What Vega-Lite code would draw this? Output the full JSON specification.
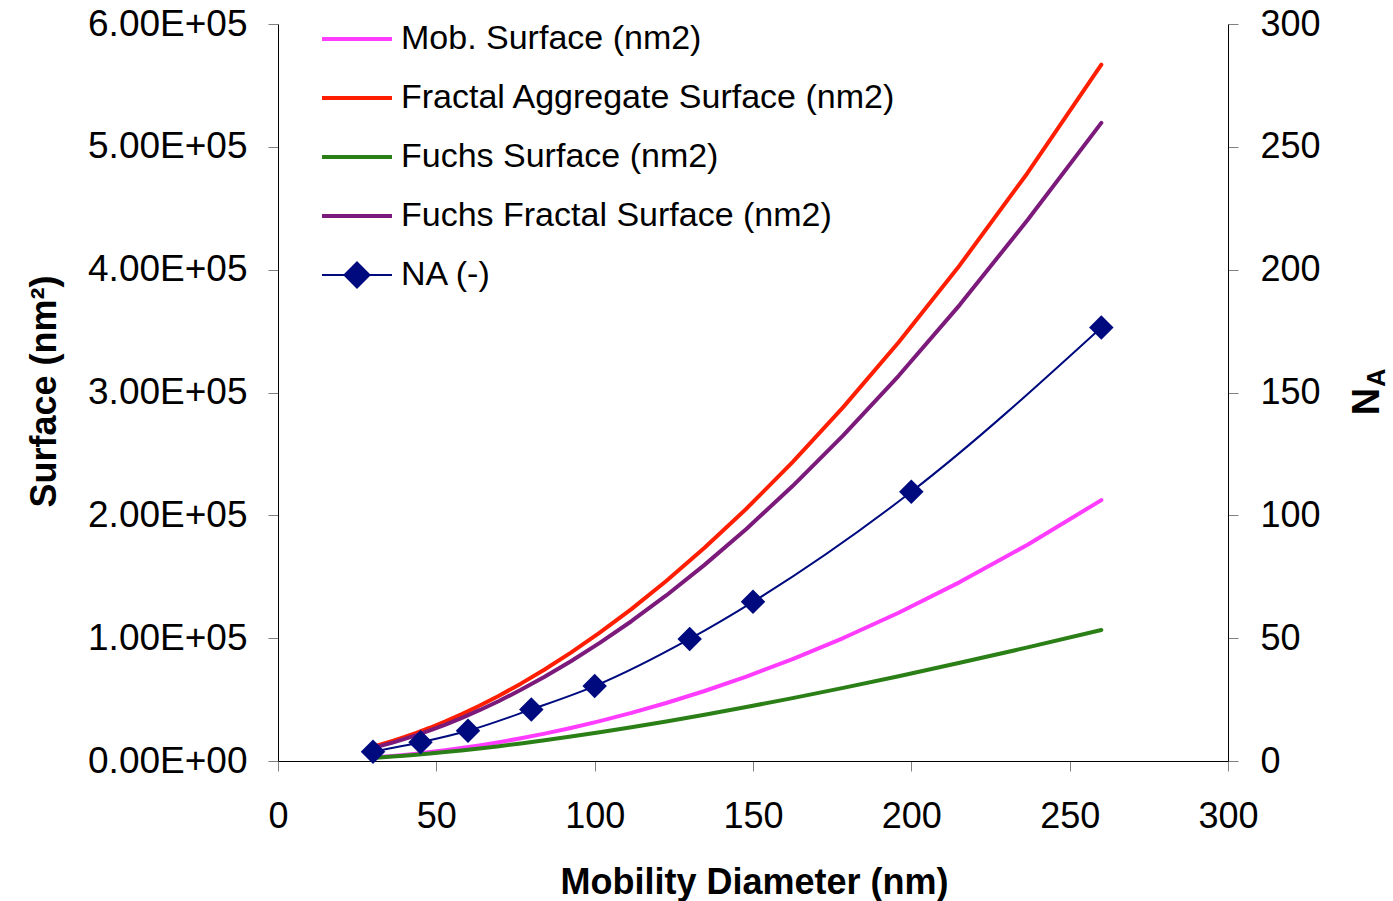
{
  "$schema": "https://vega.github.io/schema/vega-lite/v6.json",
  "width": 950,
  "height": 737,
  "autosize": {"type": "none"},
  "padding": {"left": 278, "top": 24, "right": 165, "bottom": 140},
  "background": "white",
  "config": {
    "view": {"stroke": null},
    "font": "Liberation Sans",
    "axis": {
      "grid": false,
      "domainColor": "#000000",
      "domainWidth": 1,
      "tickColor": "#808080",
      "tickWidth": 1,
      "tickSize": 10,
      "labelColor": "#000000",
      "labelFont": "Liberation Sans",
      "labelFontSize": 36,
      "titleColor": "#000000",
      "titleFont": "Liberation Sans",
      "titleFontSize": 36,
      "titleFontWeight": "bold"
    }
  },
  "datasets": {
    "surface": [
      {"series": "Mob. Surface (nm2)", "d": 30, "s": 2827},
      {"series": "Mob. Surface (nm2)", "d": 33, "s": 3421},
      {"series": "Mob. Surface (nm2)", "d": 36.2, "s": 4117},
      {"series": "Mob. Surface (nm2)", "d": 39.8, "s": 4976},
      {"series": "Mob. Surface (nm2)", "d": 43.7, "s": 5999},
      {"series": "Mob. Surface (nm2)", "d": 48, "s": 7238},
      {"series": "Mob. Surface (nm2)", "d": 52.7, "s": 8725},
      {"series": "Mob. Surface (nm2)", "d": 57.9, "s": 10532},
      {"series": "Mob. Surface (nm2)", "d": 63.6, "s": 12708},
      {"series": "Mob. Surface (nm2)", "d": 69.8, "s": 15306},
      {"series": "Mob. Surface (nm2)", "d": 76.7, "s": 18482},
      {"series": "Mob. Surface (nm2)", "d": 84.2, "s": 22273},
      {"series": "Mob. Surface (nm2)", "d": 92.5, "s": 26880},
      {"series": "Mob. Surface (nm2)", "d": 101.6, "s": 32429},
      {"series": "Mob. Surface (nm2)", "d": 111.6, "s": 39128},
      {"series": "Mob. Surface (nm2)", "d": 122.6, "s": 47221},
      {"series": "Mob. Surface (nm2)", "d": 134.7, "s": 57001},
      {"series": "Mob. Surface (nm2)", "d": 147.9, "s": 68720},
      {"series": "Mob. Surface (nm2)", "d": 162.5, "s": 82957},
      {"series": "Mob. Surface (nm2)", "d": 178.5, "s": 100098},
      {"series": "Mob. Surface (nm2)", "d": 196, "s": 120687},
      {"series": "Mob. Surface (nm2)", "d": 215.3, "s": 145626},
      {"series": "Mob. Surface (nm2)", "d": 236.7, "s": 176014},
      {"series": "Mob. Surface (nm2)", "d": 260, "s": 212372},

      {"series": "Fractal Aggregate Surface (nm2)", "d": 30, "s": 11625},
      {"series": "Fractal Aggregate Surface (nm2)", "d": 33, "s": 13800},
      {"series": "Fractal Aggregate Surface (nm2)", "d": 36.2, "s": 16302},
      {"series": "Fractal Aggregate Surface (nm2)", "d": 39.8, "s": 19336},
      {"series": "Fractal Aggregate Surface (nm2)", "d": 43.7, "s": 22877},
      {"series": "Fractal Aggregate Surface (nm2)", "d": 48, "s": 27089},
      {"series": "Fractal Aggregate Surface (nm2)", "d": 52.7, "s": 32048},
      {"series": "Fractal Aggregate Surface (nm2)", "d": 57.9, "s": 37964},
      {"series": "Fractal Aggregate Surface (nm2)", "d": 63.6, "s": 44952},
      {"series": "Fractal Aggregate Surface (nm2)", "d": 69.8, "s": 53146},
      {"series": "Fractal Aggregate Surface (nm2)", "d": 76.7, "s": 62975},
      {"series": "Fractal Aggregate Surface (nm2)", "d": 84.2, "s": 74493},
      {"series": "Fractal Aggregate Surface (nm2)", "d": 92.5, "s": 88230},
      {"series": "Fractal Aggregate Surface (nm2)", "d": 101.6, "s": 104474},
      {"series": "Fractal Aggregate Surface (nm2)", "d": 111.6, "s": 123685},
      {"series": "Fractal Aggregate Surface (nm2)", "d": 122.6, "s": 146487},
      {"series": "Fractal Aggregate Surface (nm2)", "d": 134.7, "s": 173566},
      {"series": "Fractal Aggregate Surface (nm2)", "d": 147.9, "s": 205334},
      {"series": "Fractal Aggregate Surface (nm2)", "d": 162.5, "s": 243285},
      {"series": "Fractal Aggregate Surface (nm2)", "d": 178.5, "s": 288081},
      {"series": "Fractal Aggregate Surface (nm2)", "d": 196, "s": 340876},
      {"series": "Fractal Aggregate Surface (nm2)", "d": 215.3, "s": 403650},
      {"series": "Fractal Aggregate Surface (nm2)", "d": 236.7, "s": 478740},
      {"series": "Fractal Aggregate Surface (nm2)", "d": 260, "s": 566921},

      {"series": "Fuchs Surface (nm2)", "d": 30, "s": 2537},
      {"series": "Fuchs Surface (nm2)", "d": 33, "s": 3038},
      {"series": "Fuchs Surface (nm2)", "d": 36.2, "s": 3617},
      {"series": "Fuchs Surface (nm2)", "d": 39.8, "s": 4320},
      {"series": "Fuchs Surface (nm2)", "d": 43.7, "s": 5142},
      {"series": "Fuchs Surface (nm2)", "d": 48, "s": 6117},
      {"series": "Fuchs Surface (nm2)", "d": 52.7, "s": 7264},
      {"series": "Fuchs Surface (nm2)", "d": 57.9, "s": 8626},
      {"series": "Fuchs Surface (nm2)", "d": 63.6, "s": 10226},
      {"series": "Fuchs Surface (nm2)", "d": 69.8, "s": 12086},
      {"series": "Fuchs Surface (nm2)", "d": 76.7, "s": 14297},
      {"series": "Fuchs Surface (nm2)", "d": 84.2, "s": 16856},
      {"series": "Fuchs Surface (nm2)", "d": 92.5, "s": 19866},
      {"series": "Fuchs Surface (nm2)", "d": 101.6, "s": 23367},
      {"series": "Fuchs Surface (nm2)", "d": 111.6, "s": 27440},
      {"series": "Fuchs Surface (nm2)", "d": 122.6, "s": 32168},
      {"series": "Fuchs Surface (nm2)", "d": 134.7, "s": 37646},
      {"series": "Fuchs Surface (nm2)", "d": 147.9, "s": 43925},
      {"series": "Fuchs Surface (nm2)", "d": 162.5, "s": 51201},
      {"series": "Fuchs Surface (nm2)", "d": 178.5, "s": 59536},
      {"series": "Fuchs Surface (nm2)", "d": 196, "s": 69039},
      {"series": "Fuchs Surface (nm2)", "d": 215.3, "s": 79937},
      {"series": "Fuchs Surface (nm2)", "d": 236.7, "s": 92472},
      {"series": "Fuchs Surface (nm2)", "d": 260, "s": 106593},

      {"series": "Fuchs Fractal Surface (nm2)", "d": 30, "s": 10695},
      {"series": "Fuchs Fractal Surface (nm2)", "d": 33, "s": 12696},
      {"series": "Fuchs Fractal Surface (nm2)", "d": 36.2, "s": 14998},
      {"series": "Fuchs Fractal Surface (nm2)", "d": 39.8, "s": 17789},
      {"series": "Fuchs Fractal Surface (nm2)", "d": 43.7, "s": 21047},
      {"series": "Fuchs Fractal Surface (nm2)", "d": 48, "s": 24922},
      {"series": "Fuchs Fractal Surface (nm2)", "d": 52.7, "s": 29484},
      {"series": "Fuchs Fractal Surface (nm2)", "d": 57.9, "s": 34927},
      {"series": "Fuchs Fractal Surface (nm2)", "d": 63.6, "s": 41356},
      {"series": "Fuchs Fractal Surface (nm2)", "d": 69.8, "s": 48894},
      {"series": "Fuchs Fractal Surface (nm2)", "d": 76.7, "s": 57937},
      {"series": "Fuchs Fractal Surface (nm2)", "d": 84.2, "s": 68534},
      {"series": "Fuchs Fractal Surface (nm2)", "d": 92.5, "s": 81172},
      {"series": "Fuchs Fractal Surface (nm2)", "d": 101.6, "s": 96116},
      {"series": "Fuchs Fractal Surface (nm2)", "d": 111.6, "s": 113790},
      {"series": "Fuchs Fractal Surface (nm2)", "d": 122.6, "s": 134768},
      {"series": "Fuchs Fractal Surface (nm2)", "d": 134.7, "s": 159681},
      {"series": "Fuchs Fractal Surface (nm2)", "d": 147.9, "s": 188907},
      {"series": "Fuchs Fractal Surface (nm2)", "d": 162.5, "s": 223822},
      {"series": "Fuchs Fractal Surface (nm2)", "d": 178.5, "s": 265035},
      {"series": "Fuchs Fractal Surface (nm2)", "d": 196, "s": 313606},
      {"series": "Fuchs Fractal Surface (nm2)", "d": 215.3, "s": 371358},
      {"series": "Fuchs Fractal Surface (nm2)", "d": 236.7, "s": 440441},
      {"series": "Fuchs Fractal Surface (nm2)", "d": 260, "s": 519500}
    ],
    "na": [
      {"d": 30, "na": 3.8},
      {"d": 45, "na": 7.6},
      {"d": 60, "na": 12.3},
      {"d": 80, "na": 21.0},
      {"d": 100, "na": 30.5},
      {"d": 130, "na": 49.7},
      {"d": 150, "na": 64.8},
      {"d": 200, "na": 109.6},
      {"d": 260, "na": 176.5}
    ]
  },
  "encoding": {
    "x": {
      "field": "d",
      "type": "quantitative",
      "scale": {"domain": [0, 300], "nice": false, "zero": false},
      "axis": {
        "values": [0, 50, 100, 150, 200, 250, 300],
        "title": "Mobility Diameter (nm)",
        "labelPadding": 56,
        "labelBaseline": "alphabetic",
        "labelFlush": false,
        "labelOverlap": false,
        "titleX": 476,
        "titleY": 132,
        "titleAlign": "center",
        "titleBaseline": "alphabetic",
        "titleAnchor": null
      }
    }
  },
  "layer": [
    {
      "data": {"name": "surface"},
      "mark": {"type": "line", "strokeWidth": 4, "strokeJoin": "round", "strokeCap": "round"},
      "encoding": {
        "y": {
          "field": "s",
          "type": "quantitative",
          "scale": {"domain": [0, 600000], "nice": false},
          "axis": {
            "orient": "left",
            "values": [0, 100000, 200000, 300000, 400000, 500000, 600000],
            "labelExpr": "format(datum.value / 100000, '.2f') + (datum.value == 0 ? 'E+00' : 'E+05')",
            "labelFontSize": 37,
            "labelPadding": 21,
            "labelFlush": false,
            "labelOverlap": false,
            "title": "Surface (nm²)",
            "titleAngle": 270,
            "titleX": -223,
            "titleY": 367,
            "titleAlign": "center",
            "titleBaseline": "alphabetic",
            "titleAnchor": null
          }
        },
        "color": {
          "field": "series",
          "type": "nominal",
          "sort": null,
          "scale": {
            "domain": ["Mob. Surface (nm2)", "Fractal Aggregate Surface (nm2)", "Fuchs Surface (nm2)", "Fuchs Fractal Surface (nm2)", "NA (-)"],
            "range": ["#FF3CFF", "#FF1E00", "#2B7F17", "#7B1A7B", "#000A7F"]
          },
          "legend": {
            "orient": "none",
            "legendX": 62,
            "legendY": -2,
            "title": null,
            "padding": 0,
            "symbolType": "M-1.4,0L1.4,0",
            "symbolSize": 2500,
            "symbolStrokeWidth": 4,
            "labelOffset": 27,
            "rowPadding": 25,
            "labelFont": "Liberation Sans",
            "labelFontSize": 34,
            "labelColor": "#000000",
            "labelLimit": 800,
            "encode": {
              "symbols": {
                "update": {
                  "shape": {"signal": "datum.value === 'NA (-)' ? 'M-1.4,0L1.4,0M0,-0.5L0.5,0L0,0.5L-0.5,0Z' : 'M-1.4,0L1.4,0'"},
                  "strokeWidth": {"signal": "datum.value === 'NA (-)' ? 2 : 4"},
                  "fill": {"signal": "datum.value === 'NA (-)' ? '#000A7F' : 'transparent'"},
                  "opacity": {"value": 1}
                }
              }
            }
          }
        }
      }
    },
    {
      "layer": [
        {
          "data": {"name": "na"},
          "mark": {"type": "line", "strokeWidth": 2, "interpolate": "monotone"},
          "encoding": {
            "y": {
              "field": "na",
              "type": "quantitative",
              "scale": {"domain": [0, 300], "nice": false},
              "axis": {
                "orient": "right",
                "values": [0, 50, 100, 150, 200, 250, 300],
                "labelPadding": 22,
                "labelFlush": false,
                "labelOverlap": false,
                "title": "N",
                "titleFontSize": 38,
                "titleAngle": 270,
                "titleX": 150,
                "titleY": 377,
                "titleAlign": "center",
                "titleBaseline": "alphabetic",
                "titleAnchor": null
              }
            },
            "color": {"datum": "NA (-)"}
          }
        },
        {
          "data": {"name": "na"},
          "mark": {"type": "point", "shape": "diamond", "filled": true, "size": 600, "opacity": 1},
          "encoding": {
            "y": {"field": "na", "type": "quantitative"},
            "color": {"datum": "NA (-)"}
          }
        },
        {
          "data": {"values": [{"sub": "A", "d": 300, "na": 156}]},
          "mark": {"type": "text", "angle": 270, "align": "center", "baseline": "alphabetic", "fontSize": 25, "fontWeight": "bold", "font": "Liberation Sans", "color": "#000000", "dy": 157},
          "encoding": {
            "y": {"field": "na", "type": "quantitative"},
            "text": {"field": "sub"}
          }
        }
      ]
    }
  ],
  "resolve": {"scale": {"y": "independent"}}
}
